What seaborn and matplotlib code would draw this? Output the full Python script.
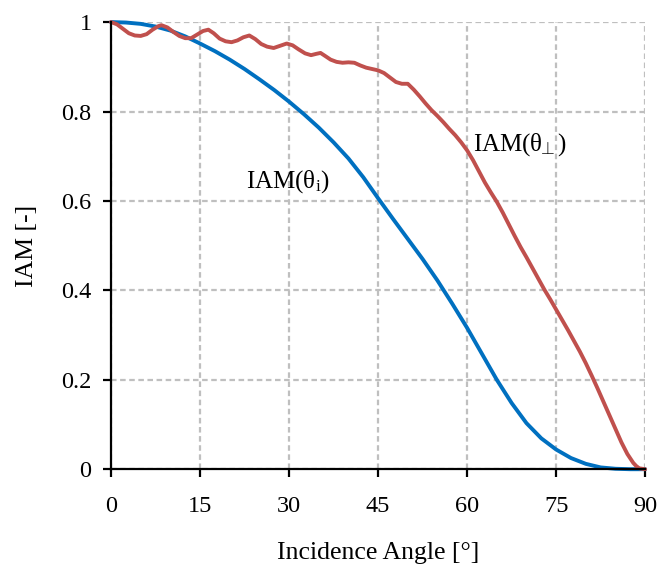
import numpy as np
import pandas as pd
import matplotlib
matplotlib.use("Agg")
import matplotlib.pyplot as plt
import seaborn as sns

# ---- data ----
angle_i = [0, 2.5, 5, 7.5, 10, 12.5, 15, 17.5, 20, 22.5, 25, 27.5, 30, 32.5, 35,
           37.5, 40, 42.5, 45, 47.5, 50, 52.5, 55, 57.5, 60, 62.5, 65, 67.5, 70,
           72.5, 75, 77.5, 80, 82.5, 85, 87.5, 90]
iam_i = [1.000, 0.999, 0.996, 0.990, 0.981, 0.968, 0.952, 0.935, 0.916, 0.895,
         0.872, 0.848, 0.822, 0.794, 0.764, 0.731, 0.695, 0.653, 0.606, 0.560,
         0.515, 0.470, 0.422, 0.370, 0.316, 0.258, 0.200, 0.148, 0.103, 0.069,
         0.044, 0.025, 0.012, 0.004, 0.001, 0.000, 0.000]

angle_p = [0, 1, 2, 3, 4, 5, 6, 7, 8, 8.5, 9.5, 10.5, 11.5, 12.5, 13.5, 14.5,
           15.5, 16.4, 17.3, 18.3, 19.3, 20.3, 21.3, 22.3, 23.3, 24.3, 25.3, 26.3,
           27.4, 28.5, 29.6, 30.6, 31.6, 32.7, 33.7, 34.6, 35.3, 36.1, 37, 38, 39,
           40, 41, 42, 43, 44, 45, 46, 47, 48, 49, 50, 51, 52, 53, 54, 55, 56, 57,
           58, 59, 60, 61, 62, 63, 64, 65, 66, 67, 68, 69, 70, 71, 72, 73, 74, 75,
           76, 77, 78, 79, 80, 81, 82, 83, 84, 85, 86, 87, 88, 88.5, 89, 90]
iam_p = [1.000, 0.995, 0.985, 0.975, 0.970, 0.969, 0.973, 0.983, 0.991, 0.993,
         0.988, 0.978, 0.969, 0.964, 0.964, 0.972, 0.980, 0.983, 0.975, 0.963,
         0.957, 0.955, 0.959, 0.966, 0.970, 0.962, 0.951, 0.945, 0.942, 0.947,
         0.952, 0.948, 0.939, 0.930, 0.926, 0.929, 0.931, 0.924, 0.916, 0.911,
         0.909, 0.910, 0.909, 0.903, 0.898, 0.895, 0.892, 0.886, 0.876, 0.866,
         0.862, 0.862, 0.849, 0.834, 0.818, 0.803, 0.790, 0.776, 0.761, 0.747,
         0.731, 0.713, 0.691, 0.666, 0.641, 0.619, 0.598, 0.574, 0.548, 0.522,
         0.497, 0.474, 0.450, 0.426, 0.402, 0.380, 0.357, 0.334, 0.311, 0.287,
         0.263, 0.237, 0.209, 0.180, 0.150, 0.120, 0.090, 0.060, 0.034, 0.014,
         0.007, 0.002, 0.000]

x_ticks = [0, 15, 30, 45, 60, 75, 90]
y_ticks = [0, 0.2, 0.4, 0.6, 0.8, 1]

label_i = r"IAM($\mathrm{\theta_i}$)"
label_p = r"IAM($\mathrm{\theta_{\!\!\bot}}$)"

df = pd.concat([
    pd.DataFrame({"angle": angle_i, "iam": iam_i, "series": "i"}),
    pd.DataFrame({"angle": angle_p, "iam": iam_p, "series": "p"}),
], ignore_index=True)

sns.set_theme(style="white")
plt.rcParams["font.family"] = ["Liberation Serif", "DejaVu Serif"]
plt.rcParams["mathtext.fontset"] = "custom"
plt.rcParams["mathtext.rm"] = "Liberation Serif"
plt.rcParams["mathtext.it"] = "Liberation Serif:italic"
plt.rcParams["text.color"] = "black"
plt.rcParams["axes.labelcolor"] = "black"

fig = plt.figure(figsize=(6.57, 5.66), dpi=100)
ax = fig.add_axes([0.169, 0.171, 0.813, 0.790])

sns.lineplot(data=df, x="angle", y="iam", hue="series",
             palette={"i": "#0070C0", "p": "#C0504D"}, linewidth=2.8,
             legend=False, ax=ax, sort=False)
for ln in ax.lines:
    ln.set_clip_on(False)
    ln.set_solid_capstyle("round")
    ln.set_solid_joinstyle("round")

ax.set_xlim(0, 90)
ax.set_ylim(0, 1)
ax.set_xticks(x_ticks)
ax.set_yticks(y_ticks)
ax.set_xticklabels([str(v) for v in x_ticks])
ax.set_yticklabels([f"{v:g}" for v in y_ticks])
ax.grid(True, color="#BFBFBF", linestyle=(0, (2.5, 1.6)), linewidth=1.6)
ax.set_axisbelow(True)

for s in ["top", "right"]:
    ax.spines[s].set_visible(False)
for s in ["left", "bottom"]:
    ax.spines[s].set_color("black")
    ax.spines[s].set_linewidth(1.6)
ax.tick_params(axis="both", which="major", bottom=True, left=True,
               direction="out", length=6, width=1.6,
               colors="black", labelsize=17.5)
ax.tick_params(axis="x", pad=13)
ax.tick_params(axis="y", pad=8)

ax.set_xlabel("Incidence Angle [°]", fontsize=18.5, labelpad=18)
ax.set_ylabel("IAM [-]", fontsize=18.5, labelpad=17)

ax.text(29.8, 0.643, label_i, fontsize=18, ha="center", va="center")
ax.text(68.9, 0.725, label_p, fontsize=18, ha="center", va="center")

fig.savefig("out.png", dpi=100, facecolor="white")
